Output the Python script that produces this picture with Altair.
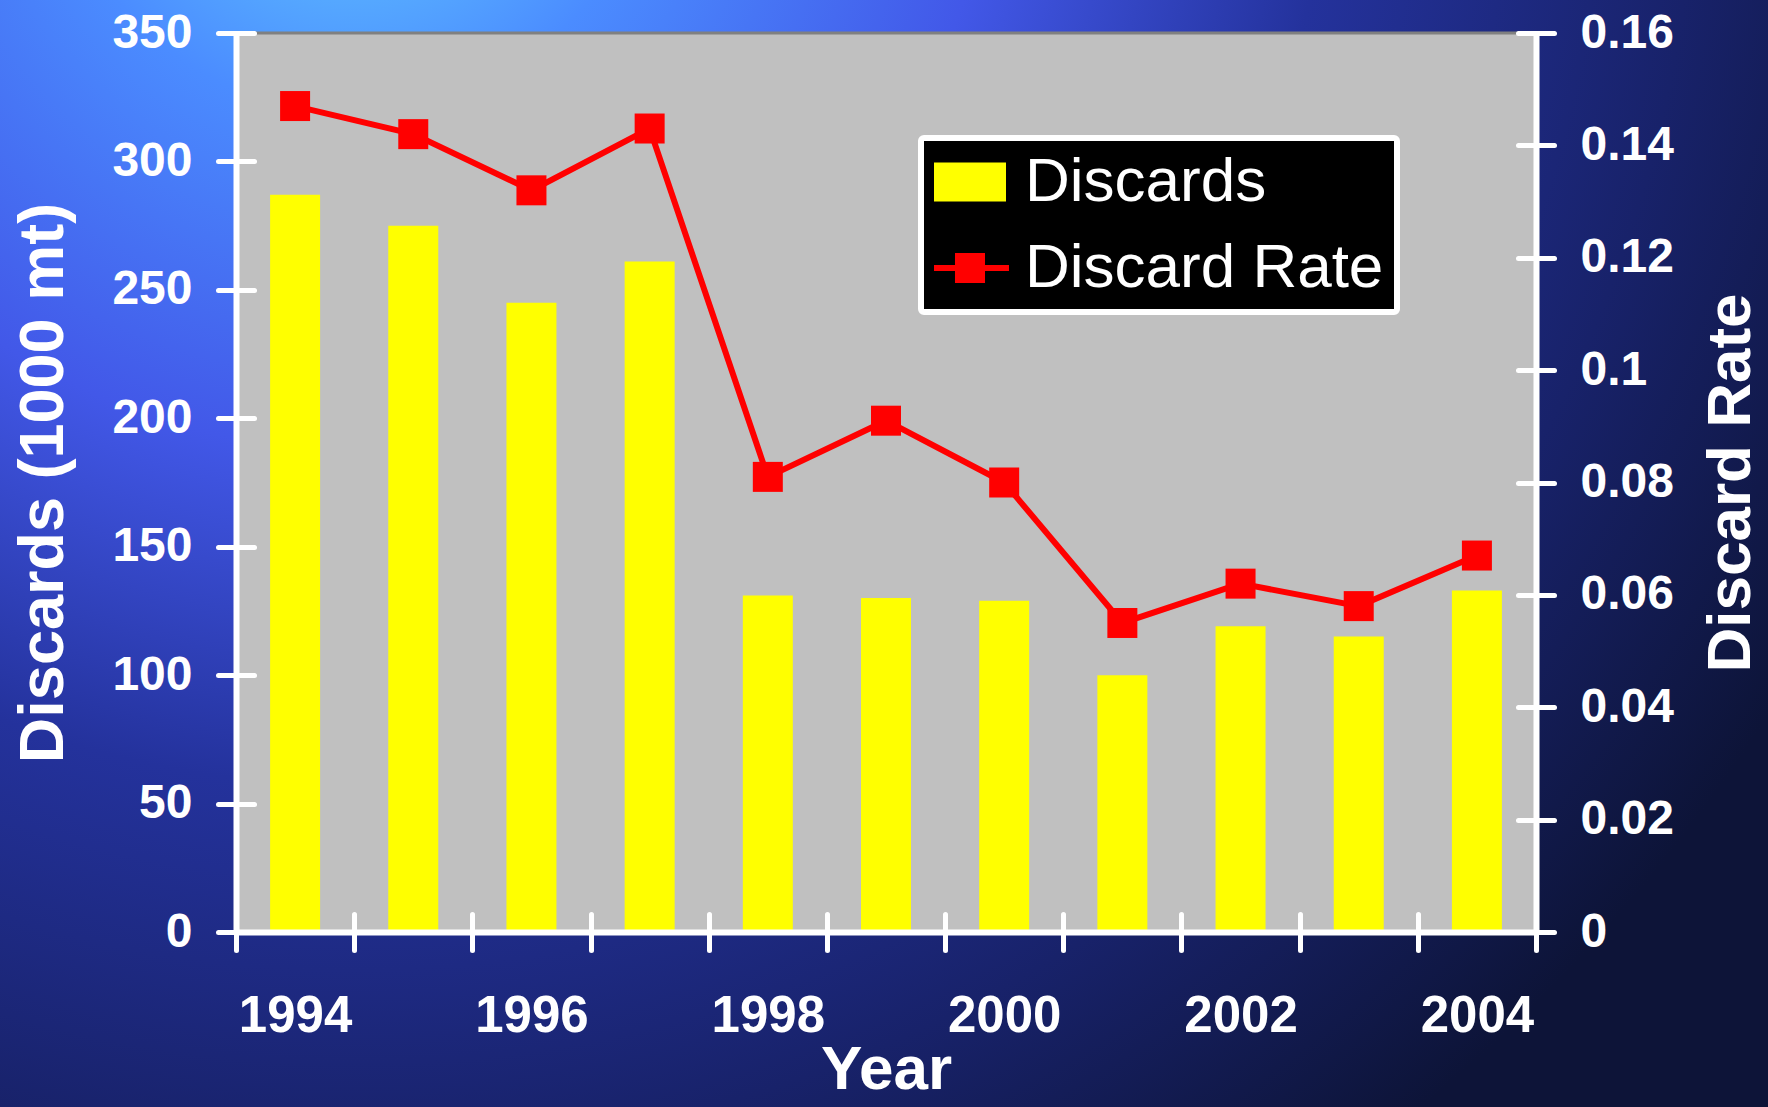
import altair as alt
import pandas as pd

# ---- data -------------------------------------------------------------
years = ["1994", "1995", "1996", "1997", "1998", "1999",
         "2000", "2001", "2002", "2003", "2004"]
discards = [287, 275, 245, 261, 131, 130, 129, 100, 119, 115, 133]
discard_rate = [0.147, 0.142, 0.132, 0.143, 0.081, 0.091,
                0.080, 0.055, 0.062, 0.058, 0.067]

series_names = ["Discards", "Discard Rate"]
series_colors = ["#FFFF00", "#FF0000"]

left_ticks = [0, 50, 100, 150, 200, 250, 300, 350]
right_ticks = [0, 0.02, 0.04, 0.06, 0.08, 0.10, 0.12, 0.14, 0.16]

df = pd.DataFrame({"Year": years, "Discards": discards, "Rate": discard_rate})

# ---- layout -----------------------------------------------------------
W, H = 1300, 899
PAD_L, PAD_T, PAD_R, PAD_B = 236, 33, 232, 175
FONT = "Liberation Sans"
WHITE = "white"
Z = 3  # axes sit above the backdrop and plot marks

# bars use a padded band scale; the tick axis uses full-step bands so its
# ticks fall on the category boundaries
x_scale = alt.Scale(domain=years, paddingInner=0.577, paddingOuter=0.2885)
x_step_scale = alt.Scale(domain=years, paddingInner=0, paddingOuter=0)
y_left = alt.Scale(domain=[0, 350], nice=False)
y_right = alt.Scale(domain=[0, 0.16], nice=False)

# legend symbols: a wide box for the bars, a line through a square for the rate
bar_symbol = "M-1,-0.54H1V0.54H-1Z"
rate_symbol = ("M-1.083,-0.083H1.083V0.083H-1.083Z "
               "M-0.417,-0.417H0.417V0.417H-0.417Z")

common = dict(labelFont=FONT, titleFont=FONT, labelFontWeight="bold",
              titleFontWeight="bold", labelColor=WHITE, titleColor=WHITE,
              labelOverlap=False, zindex=Z, grid=False)

# ---- axes -------------------------------------------------------------
x_line_axis = alt.Axis(orient="bottom", domain=True, domainColor=WHITE,
                       domainWidth=6, ticks=False, labels=False,
                       title="Year", titleFontSize=62, titlePadding=107,
                       **common)
x_tick_axis = alt.Axis(orient="bottom", offset=-18, domain=False,
                       ticks=True, tickSize=36, tickWidth=5, tickColor=WHITE,
                       tickCap="round", tickBand="extent",
                       labelExpr="toNumber(datum.value) % 2 == 0 ? datum.label : ''",
                       labelFontSize=51, labelPadding=41, labelAngle=0,
                       title=None, **common)

left_line_axis = alt.Axis(orient="left", domain=True, domainColor=WHITE,
                          domainWidth=6, ticks=False, labels=False,
                          title="Discards (1000 mt)", titleFontSize=63,
                          titlePadding=161, **common)
left_tick_axis = alt.Axis(orient="left", offset=-18, domain=False,
                          values=left_ticks, ticks=True, tickSize=36,
                          tickWidth=5, tickColor=WHITE, tickCap="round",
                          labelFontSize=48, labelPadding=26, format="d",
                          title=None, **common)

right_line_axis = alt.Axis(orient="right", domain=True, domainColor=WHITE,
                           domainWidth=6, ticks=False, labels=False,
                           title="Discard Rate", titleFontSize=62,
                           titleAngle=270, titleBaseline="top",
                           titlePadding=164, **common)
right_tick_axis = alt.Axis(orient="right", offset=-18, domain=False,
                           values=right_ticks, ticks=True, tickSize=36,
                           tickWidth=5, tickColor=WHITE, tickCap="round",
                           labelFontSize=48, labelPadding=26, format="~g",
                           title=None, **common)

# ---- layers -----------------------------------------------------------
backdrop = alt.Chart(pd.DataFrame({"panel": ["backdrop"]})).mark_rect(
    fill={
        "gradient": "radial",
        "x1": 0.2, "y1": 0.08, "r1": 0,
        "x2": 0.2, "y2": 0.08, "r2": 0.95,
        "stops": [
            {"offset": 0.0, "color": "#66d6ff"},
            {"offset": 0.18, "color": "#4b8cff"},
            {"offset": 0.38, "color": "#4258e8"},
            {"offset": 0.58, "color": "#24329c"},
            {"offset": 0.8, "color": "#18226a"},
            {"offset": 1.0, "color": "#0d1438"},
        ],
    },
    strokeWidth=0,
).encode(
    x=alt.value(-PAD_L), x2=alt.value(W + PAD_R),
    y=alt.value(-PAD_T), y2=alt.value(H + PAD_B),
)

plot_area = alt.Chart(pd.DataFrame({"panel": ["plot"]})).mark_rect(
    fill="#C0C0C0", stroke="#808080", strokeWidth=3
).encode(
    x=alt.value(0), x2=alt.value("width"),
    y=alt.value(0), y2=alt.value("height"),
)

base = alt.Chart(df)

bars = base.mark_bar(color="#FFFF00").encode(
    x=alt.X("Year:N", scale=x_scale, axis=x_line_axis),
    y=alt.Y("Discards:Q", scale=y_left, axis=left_line_axis),
)

# invisible copy of the bars that carries the tick-and-label axes
bar_ticks = base.mark_bar(opacity=0).encode(
    x=alt.X("Year:N", scale=x_step_scale, axis=x_tick_axis),
    y=alt.Y("Discards:Q", scale=y_left, axis=left_tick_axis),
)

rate_line = base.mark_line(color="#FF0000", strokeWidth=6).encode(
    x=alt.X("Year:N", scale=x_scale, axis=None),
    y=alt.Y("Rate:Q", scale=y_right, axis=right_line_axis),
)

rate_points = base.mark_point(shape="square", filled=True, size=900,
                              color="#FF0000", opacity=1).encode(
    x=alt.X("Year:N", scale=x_scale, axis=None),
    y=alt.Y("Rate:Q", scale=y_right, axis=right_tick_axis),
)

legend = alt.Legend(
    orient="none", legendX=685, legendY=105, title=None, direction="vertical",
    fillColor="black", strokeColor=WHITE, padding=13, cornerRadius=3,
    labelFont=FONT, labelFontSize=62, labelFontWeight="normal",
    labelColor=WHITE, labelOffset=19, labelLimit=600, rowPadding=24,
    clipHeight=62, symbolSize=5184, symbolStrokeWidth=0, symbolOpacity=1,
    zindex=2,
)

legend_layer = alt.Chart(pd.DataFrame({"series": series_names})).transform_filter(
    "false"
).mark_point(filled=True, opacity=1).encode(
    color=alt.Color("series:N",
                    scale=alt.Scale(domain=series_names, range=series_colors),
                    legend=legend),
    shape=alt.Shape("series:N",
                    scale=alt.Scale(domain=series_names,
                                    range=[bar_symbol, rate_symbol]),
                    legend=legend),
)

chart = alt.layer(
    backdrop, plot_area, bars, bar_ticks, rate_line, rate_points, legend_layer
).resolve_scale(
    x="independent", y="independent"
).resolve_axis(
    x="independent", y="independent"
).properties(
    width=W, height=H,
    autosize=alt.AutoSizeParams(type="none"),
    padding={"left": PAD_L, "top": PAD_T, "right": PAD_R, "bottom": PAD_B},
    background="#18226a",
).configure_view(
    stroke=None
).configure_legend(
    strokeWidth=6
)

chart.save("out.html", embed_options={"renderer": "svg", "actions": False})
